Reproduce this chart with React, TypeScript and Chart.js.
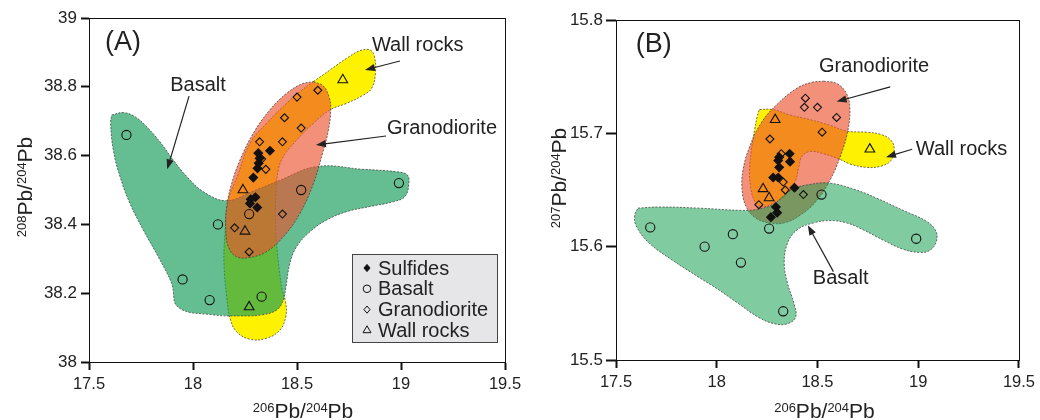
import React, { useEffect, useRef } from 'react';
import { Chart, registerables } from 'chart.js';

Chart.register(...registerables);

const FONT = "'Liberation Sans', Arial, Helvetica, sans-serif";
Chart.defaults.font.family = FONT;

type P = [number, number];

// ---------------- Panel A : 206Pb/204Pb vs 208Pb/204Pb ----------------
const aXTicks = [17.5, 18, 18.5, 19, 19.5];
const aXLabels = ['17.5', '18', '18.5', '19', '19.5'];
const aYTicks = [38, 38.2, 38.4, 38.6, 38.8, 39];
const aYLabels = ['38', '38.2', '38.4', '38.6', '38.8', '39'];

const aSulfides: P[] = [
  [18.37, 38.614], [18.314, 38.607], [18.32, 38.592], [18.316, 38.578], [18.31, 38.563],
  [18.29, 38.536], [18.30, 38.479], [18.277, 38.473], [18.274, 38.461], [18.309, 38.449],
];
const aBasalt: P[] = [
  [17.68, 38.66], [18.99, 38.52], [18.52, 38.50], [18.27, 38.43],
  [18.12, 38.40], [17.95, 38.24], [18.08, 38.18], [18.33, 38.19],
];
const aGranodiorite: P[] = [
  [18.60, 38.79], [18.50, 38.77], [18.44, 38.71], [18.52, 38.68], [18.32, 38.64], [18.43, 38.64],
  [18.33, 38.59], [18.35, 38.56], [18.43, 38.43], [18.20, 38.39], [18.27, 38.32],
];
const aWallRocks: P[] = [[18.72, 38.82], [18.24, 38.50], [18.25, 38.38], [18.27, 38.16]];

const aBasaltField: P[] = [
  [17.609, 38.718], [17.665, 38.725], [17.721, 38.713], [17.777, 38.684], [17.841, 38.640],
  [17.905, 38.587], [17.970, 38.539], [18.050, 38.495], [18.162, 38.469], [18.290, 38.497],
  [18.402, 38.524], [18.595, 38.568], [18.819, 38.560], [18.979, 38.553], [19.030, 38.544],
  [19.038, 38.519], [19.019, 38.481], [18.963, 38.466], [18.851, 38.452], [18.739, 38.437],
  [18.643, 38.413], [18.563, 38.379], [18.498, 38.335], [18.466, 38.287], [18.447, 38.219],
  [18.434, 38.180], [18.402, 38.151], [18.330, 38.137], [18.226, 38.134], [18.098, 38.137],
  [17.929, 38.159], [17.897, 38.229], [17.833, 38.306], [17.761, 38.384], [17.697, 38.461],
  [17.649, 38.539], [17.617, 38.616], [17.604, 38.694],
];
const aWallField: P[] = [
  [18.579, 38.815], [18.659, 38.849], [18.739, 38.883], [18.803, 38.905], [18.851, 38.907],
  [18.872, 38.888], [18.877, 38.839], [18.859, 38.796], [18.819, 38.776], [18.739, 38.752],
  [18.659, 38.733], [18.579, 38.694], [18.498, 38.645], [18.434, 38.597], [18.410, 38.558],
  [18.399, 38.490], [18.396, 38.422], [18.402, 38.345], [18.415, 38.267], [18.429, 38.209],
  [18.446, 38.171], [18.446, 38.132], [18.418, 38.093], [18.354, 38.069], [18.274, 38.066],
  [18.210, 38.088], [18.178, 38.127], [18.162, 38.190], [18.149, 38.287], [18.154, 38.374],
  [18.170, 38.471], [18.212, 38.538], [18.274, 38.636], [18.354, 38.694], [18.450, 38.752],
  [18.514, 38.786],
];
const aGranoField: P[] = [
  [18.579, 38.815], [18.627, 38.802], [18.655, 38.769], [18.662, 38.733], [18.651, 38.674],
  [18.623, 38.607], [18.579, 38.519], [18.514, 38.432], [18.434, 38.364], [18.354, 38.321],
  [18.274, 38.304], [18.210, 38.306], [18.170, 38.335], [18.157, 38.393], [18.162, 38.452],
  [18.186, 38.519], [18.226, 38.587], [18.290, 38.665], [18.370, 38.733], [18.450, 38.781],
  [18.522, 38.808],
];

// ---------------- Panel B : 206Pb/204Pb vs 207Pb/204Pb ----------------
const bXTicks = [17.5, 18, 18.5, 19, 19.5];
const bXLabels = ['17.5', '18', '18.5', '19', '19.5'];
const bYTicks = [15.5, 15.6, 15.7, 15.8];
const bYLabels = ['15.5', '15.6', '15.7', '15.8'];

const bSulfides: P[] = [
  [18.362, 15.682], [18.364, 15.675], [18.31, 15.679], [18.305, 15.676], [18.31, 15.670],
  [18.28, 15.661], [18.305, 15.661], [18.386, 15.652], [18.294, 15.635], [18.30, 15.630],
  [18.269, 15.626],
];
const bBasalt: P[] = [
  [17.67, 15.617], [17.94, 15.600], [18.08, 15.611], [18.12, 15.586],
  [18.26, 15.616], [18.52, 15.646], [18.33, 15.543], [18.99, 15.607],
];
const bGranodiorite: P[] = [
  [18.44, 15.731], [18.435, 15.723], [18.50, 15.723], [18.595, 15.714], [18.523, 15.701],
  [18.264, 15.695], [18.32, 15.682], [18.33, 15.657], [18.34, 15.650], [18.43, 15.646],
  [18.209, 15.637],
];
const bWallRocks: P[] = [[18.29, 15.712], [18.76, 15.686], [18.23, 15.651], [18.26, 15.643]];

const bBasaltField: P[] = [
  [17.609, 15.634], [17.715, 15.635], [17.911, 15.634], [18.123, 15.632], [18.204, 15.633],
  [18.286, 15.638], [18.367, 15.650], [18.465, 15.655], [18.563, 15.656], [18.693, 15.650],
  [18.791, 15.643], [18.938, 15.631], [19.035, 15.623], [19.084, 15.615], [19.092, 15.606],
  [19.060, 15.597], [19.003, 15.595], [18.921, 15.598], [18.824, 15.606], [18.726, 15.615],
  [18.644, 15.621], [18.563, 15.623], [18.481, 15.621], [18.400, 15.615], [18.351, 15.603],
  [18.335, 15.585], [18.351, 15.568], [18.383, 15.550], [18.392, 15.538], [18.351, 15.532],
  [18.286, 15.532], [18.204, 15.538], [18.106, 15.550], [18.009, 15.562], [17.911, 15.573],
  [17.780, 15.588], [17.666, 15.603], [17.601, 15.618], [17.593, 15.628],
];
const bWallField: P[] = [
  [18.212, 15.721], [18.278, 15.721], [18.367, 15.716], [18.465, 15.712], [18.563, 15.707],
  [18.644, 15.702], [18.742, 15.701], [18.815, 15.699], [18.864, 15.694], [18.881, 15.686],
  [18.864, 15.676], [18.815, 15.671], [18.742, 15.670], [18.661, 15.673], [18.612, 15.677],
  [18.530, 15.682], [18.465, 15.684], [18.424, 15.680], [18.408, 15.671], [18.392, 15.659],
  [18.351, 15.647], [18.286, 15.639], [18.220, 15.635], [18.188, 15.640], [18.168, 15.653],
  [18.163, 15.668], [18.172, 15.685], [18.188, 15.703], [18.201, 15.715],
];
const bGranoField: P[] = [
  [18.530, 15.746], [18.595, 15.744], [18.644, 15.735], [18.661, 15.721], [18.648, 15.700],
  [18.612, 15.679], [18.563, 15.659], [18.498, 15.641], [18.416, 15.628], [18.335, 15.621],
  [18.261, 15.621], [18.196, 15.625], [18.147, 15.635], [18.126, 15.650], [18.131, 15.668],
  [18.163, 15.688], [18.220, 15.709], [18.302, 15.726], [18.400, 15.740], [18.473, 15.745],
];

const seriesNames = ['Sulfides', 'Basalt', 'Granodiorite', 'Wall rocks'];

// ---------------- helpers ----------------
const YELLOW = '#FFF200';
const SALMON = 'rgba(237,81,47,0.64)';
const GREEN_A = 'rgba(24,158,91,0.67)';
const GREEN_B = 'rgba(15,157,75,0.53)';
const EDGE = 'rgba(60,60,60,0.75)';

const toXY = (pts: P[]) => pts.map(([x, y]) => ({ x, y }));

function field(pts: P[], color: string, order: number) {
  const closed = [...pts, pts[0]];
  return {
    label: '',
    data: toXY(closed),
    showLine: true,
    fill: 'shape',
    backgroundColor: color,
    borderColor: EDGE,
    borderWidth: 1,
    borderDash: [2, 1.5],
    tension: 0.4,
    pointRadius: 0,
    pointHoverRadius: 0,
    order,
  };
}

function markers(label: string, pts: P[], style: string, radius: number, filled: boolean, order: number) {
  return {
    label,
    data: toXY(pts),
    showLine: false,
    pointStyle: style,
    pointRadius: radius,
    pointHoverRadius: radius,
    pointBackgroundColor: filled ? '#111' : 'rgba(0,0,0,0)',
    pointBorderColor: '#111',
    pointBorderWidth: 1.1,
    order,
  };
}

function axis(min: number, max: number, ticks: number[], labels: string[], size: number, tickLen: number, fontSize: number, pad: number) {
  return {
    type: 'linear',
    min,
    max,
    afterBuildTicks: (s: any) => {
      s.ticks = ticks.map((v) => ({ value: v }));
    },
    afterFit: (s: any) => {
      if (s.isHorizontal()) s.height = size;
      else s.width = size;
    },
    ticks: {
      callback: (_v: any, i: number) => labels[i],
      font: { family: FONT, size: fontSize },
      color: '#222',
      padding: pad,
      autoSkip: false,
      maxRotation: 0,
    },
    grid: {
      drawOnChartArea: false,
      drawTicks: true,
      tickLength: tickLen,
      tickWidth: 2,
      tickColor: '#111',
    },
    border: { display: true, color: '#111', width: 1 },
  };
}

function drawArrow(ctx: CanvasRenderingContext2D, x1: number, y1: number, x2: number, y2: number) {
  const a = Math.atan2(y2 - y1, x2 - x1);
  const hl = 10, hw = 3.6;
  const c = Math.cos(a), s = Math.sin(a);
  ctx.beginPath();
  ctx.moveTo(x1, y1);
  ctx.lineTo(x2 - c * hl * 0.7, y2 - s * hl * 0.7);
  ctx.stroke();
  ctx.beginPath();
  ctx.moveTo(x2, y2);
  ctx.lineTo(x2 - c * hl + s * hw, y2 - s * hl - c * hw);
  ctx.lineTo(x2 - c * hl - s * hw, y2 - s * hl + c * hw);
  ctx.closePath();
  ctx.fill();
}

function drawSupTitle(ctx: CanvasRenderingContext2D, parts: [string, boolean][], ox: number, oy: number, rotate: boolean) {
  const big = `21px ${FONT}`, small = `13px ${FONT}`;
  let w = 0;
  for (const [t, sup] of parts) {
    ctx.font = sup ? small : big;
    w += ctx.measureText(t).width;
  }
  ctx.save();
  ctx.translate(ox, oy);
  if (rotate) ctx.rotate(-Math.PI / 2);
  ctx.fillStyle = '#222';
  ctx.textAlign = 'left';
  ctx.textBaseline = 'alphabetic';
  let x = -w / 2;
  for (const [t, sup] of parts) {
    ctx.font = sup ? small : big;
    ctx.fillText(t, x, sup ? -6 : 0);
    x += ctx.measureText(t).width;
  }
  ctx.restore();
}

type Txt = { t: string; x: number; y: number; size: number; align: CanvasTextAlign };
type Arr = { x1: number; y1: number; x2: number; y2: number };

function legendMarker(ctx: CanvasRenderingContext2D, kind: number, x: number, y: number) {
  ctx.beginPath();
  if (kind === 0 || kind === 2) {
    const r = 3.6;
    ctx.moveTo(x, y - r);
    ctx.lineTo(x + r * 0.85, y);
    ctx.lineTo(x, y + r);
    ctx.lineTo(x - r * 0.85, y);
    ctx.closePath();
    if (kind === 0) ctx.fill();
    ctx.stroke();
  } else if (kind === 1) {
    ctx.arc(x, y, 3.8, 0, Math.PI * 2);
    ctx.stroke();
  } else {
    const r = 4.6;
    ctx.moveTo(x, y - r);
    ctx.lineTo(x + r * 0.866, y + r * 0.5);
    ctx.lineTo(x - r * 0.866, y + r * 0.5);
    ctx.closePath();
    ctx.stroke();
  }
}

function makeDecor(spec: {
  id: string;
  texts: Txt[];
  arrows: Arr[];
  legend: boolean;
  yTitle: [string, boolean][];
  yTitleX: number;
  yTitleDy: number;
  xTitleDx: number;
}) {
  return {
    id: 'decor' + spec.id,
    afterDatasetsDraw(chart: any) {
      const ctx: CanvasRenderingContext2D = chart.ctx;
      const ca = chart.chartArea;
      const xs = chart.scales.x;
      const ys = chart.scales.y;
      ctx.save();
      // frame
      ctx.strokeStyle = '#111';
      ctx.lineWidth = 1;
      ctx.strokeRect(Math.round(ca.left) + 0.5, Math.round(ca.top) + 0.5, Math.round(ca.right - ca.left), Math.round(ca.bottom - ca.top));
      // texts
      ctx.fillStyle = '#222';
      ctx.textBaseline = 'middle';
      for (const t of spec.texts) {
        ctx.font = `${t.size}px ${FONT}`;
        ctx.textAlign = t.align;
        ctx.fillText(t.t, xs.getPixelForValue(t.x), ys.getPixelForValue(t.y));
      }
      // arrows
      ctx.strokeStyle = '#222';
      ctx.lineWidth = 1.2;
      for (const a of spec.arrows) {
        drawArrow(ctx, xs.getPixelForValue(a.x1), ys.getPixelForValue(a.y1), xs.getPixelForValue(a.x2), ys.getPixelForValue(a.y2));
      }
      // legend box
      if (spec.legend) {
        const right = ca.right - 8;
        const bottom = ca.bottom - 20;
        const left = right - 145;
        const top = bottom - 88;
        ctx.fillStyle = '#E6E6E8';
        ctx.fillRect(left, top, right - left, bottom - top);
        ctx.strokeStyle = '#444';
        ctx.lineWidth = 1;
        ctx.strokeRect(Math.round(left) + 0.5, Math.round(top) + 0.5, Math.round(right - left), Math.round(bottom - top));
        ctx.font = `20px ${FONT}`;
        ctx.textAlign = 'left';
        ctx.textBaseline = 'middle';
        seriesNames.forEach((name, i) => {
          const yy = top + 14 + i * 20.8;
          ctx.fillStyle = '#111';
          ctx.strokeStyle = '#111';
          ctx.lineWidth = 1;
          legendMarker(ctx, i, left + 15, yy);
          ctx.fillStyle = '#222';
          ctx.fillText(name, left + 26, yy + 1);
        });
      }
      // axis titles
      const xParts: [string, boolean][] = [['206', true], ['Pb/', false], ['204', true], ['Pb', false]];
      drawSupTitle(ctx, xParts, (ca.left + ca.right) / 2 + spec.xTitleDx, chart.height - 2, false);
      drawSupTitle(ctx, spec.yTitle, spec.yTitleX, (ca.top + ca.bottom) / 2 + spec.yTitleDy, true);
      ctx.restore();
    },
  };
}

function buildA() {
  return {
    type: 'scatter',
    data: {
      datasets: [
        markers(seriesNames[0], aSulfides, 'rectRot', 4.3, true, 0),
        markers(seriesNames[1], aBasalt, 'circle', 4.6, false, 1),
        markers(seriesNames[2], aGranodiorite, 'rectRot', 4, false, 2),
        markers(seriesNames[3], aWallRocks, 'triangle', 5.6, false, 3),
        field(aGranoField, SALMON, 8),
        field(aBasaltField, GREEN_A, 9),
        field(aWallField, YELLOW, 10),
      ],
    },
    options: {
      responsive: false,
      animation: false,
      events: [],
      layout: { padding: { top: 18, right: 25, left: 0, bottom: 0 } },
      plugins: { legend: { display: false }, tooltip: { enabled: false } },
      scales: {
        x: axis(17.5, 19.5, aXTicks, aXLabels, 58, 8, 16.5, 5),
        y: axis(38, 39, aYTicks, aYLabels, 89, 8, 17, 4),
      },
    },
    plugins: [
      makeDecor({
        id: 'A',
        texts: [
          { t: '(A)', x: 17.577, y: 38.93, size: 27, align: 'left' },
          { t: 'Wall rocks', x: 19.08, y: 38.919, size: 20, align: 'center' },
          { t: 'Basalt', x: 18.024, y: 38.805, size: 20, align: 'center' },
          { t: 'Granodiorite', x: 19.197, y: 38.68, size: 20, align: 'center' },
        ],
        arrows: [
          { x1: 18.995, y1: 38.875, x2: 18.827, y2: 38.849 },
          { x1: 17.981, y1: 38.773, x2: 17.876, y2: 38.56 },
          { x1: 18.928, y1: 38.657, x2: 18.591, y2: 38.631 },
        ],
        legend: true,
        yTitle: [['208', true], ['Pb/', false], ['204', true], ['Pb', false]],
        yTitleX: 32,
        yTitleDy: -3,
        xTitleDx: 6,
      }),
    ],
  };
}

function buildB() {
  return {
    type: 'scatter',
    data: {
      datasets: [
        markers(seriesNames[0], bSulfides, 'rectRot', 4.3, true, 0),
        markers(seriesNames[1], bBasalt, 'circle', 4.6, false, 1),
        markers(seriesNames[2], bGranodiorite, 'rectRot', 4, false, 2),
        markers(seriesNames[3], bWallRocks, 'triangle', 5.6, false, 3),
        field(bBasaltField, GREEN_B, 8),
        field(bGranoField, SALMON, 9),
        field(bWallField, YELLOW, 10),
      ],
    },
    options: {
      responsive: false,
      animation: false,
      events: [],
      layout: { padding: { top: 20, right: 15, left: 0, bottom: 0 } },
      plugins: { legend: { display: false }, tooltip: { enabled: false } },
      scales: {
        x: axis(17.5, 19.5, bXTicks, bXLabels, 60, 8, 16.5, 5),
        y: axis(15.5, 15.8, bYTicks, bYLabels, 86, 10, 17, 3),
      },
    },
    plugins: [
      makeDecor({
        id: 'B',
        texts: [
          { t: '(B)', x: 17.598, y: 15.778, size: 27, align: 'left' },
          { t: 'Granodiorite', x: 18.781, y: 15.759, size: 20, align: 'center' },
          { t: 'Wall rocks', x: 19.215, y: 15.686, size: 20, align: 'center' },
          { t: 'Basalt', x: 18.615, y: 15.572, size: 20, align: 'center' },
        ],
        arrows: [
          { x1: 18.861, y1: 15.741, x2: 18.595, y2: 15.728 },
          { x1: 18.97, y1: 15.686, x2: 18.84, y2: 15.679 },
          { x1: 18.579, y1: 15.578, x2: 18.452, y2: 15.619 },
        ],
        legend: false,
        yTitle: [['207', true], ['Pb/', false], ['204', true], ['Pb', false]],
        yTitleX: 36,
        yTitleDy: -12,
        xTitleDx: 7,
      }),
    ],
  };
}

function Panel({ build, width, height }: { build: () => any; width: number; height: number }) {
  const ref = useRef<HTMLCanvasElement>(null);
  useEffect(() => {
    if (!ref.current) return;
    const chart = new Chart(ref.current, build());
    return () => chart.destroy();
  }, [build]);
  return <canvas ref={ref} width={width} height={height} style={{ display: 'block', width, height }} />;
}

export default function App() {
  return (
    <div style={{ position: 'fixed', left: 0, top: 0, width: 1040, height: 420, background: '#fff', overflow: 'hidden' }}>
      <div style={{ position: 'absolute', left: 0, top: 0 }}>
        <Panel build={buildA} width={530} height={420} />
      </div>
      <div style={{ position: 'absolute', left: 530, top: 0 }}>
        <Panel build={buildB} width={510} height={420} />
      </div>
    </div>
  );
}
